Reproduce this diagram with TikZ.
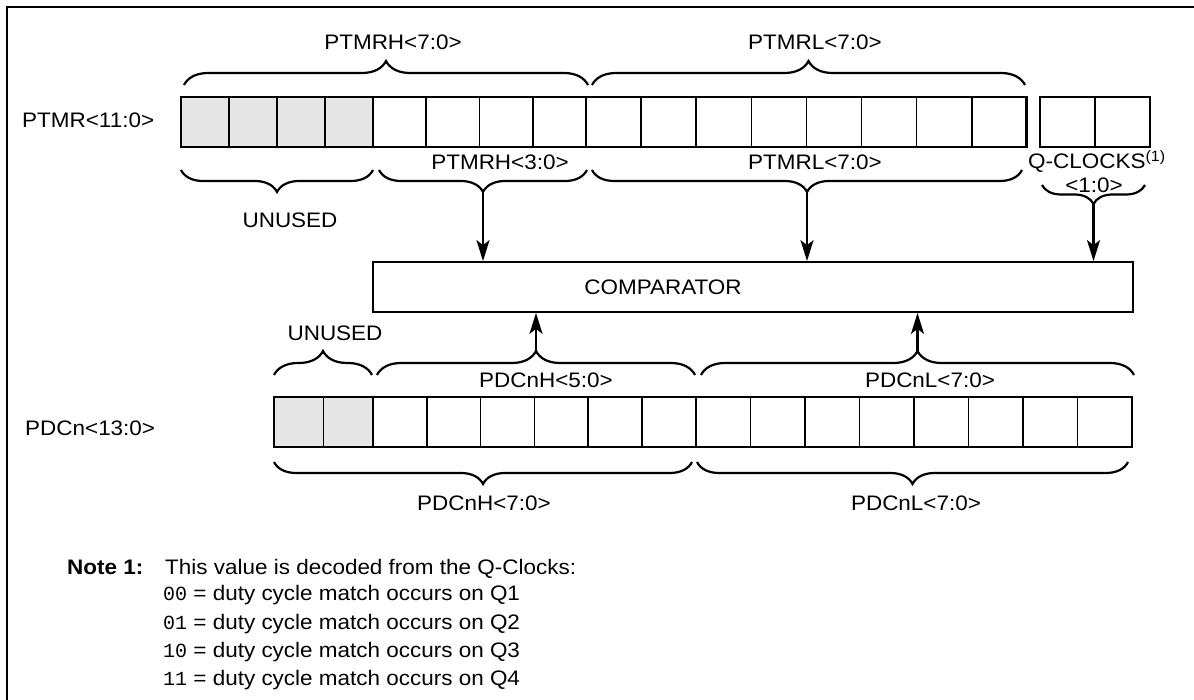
\documentclass[tikz,border=0pt]{standalone}
\usepackage{fontspec}
\setmainfont{Liberation Sans}[FakeStretch=1.07]
\newfontfamily\codefont{Liberation Mono}
\definecolor{unusedgray}{HTML}{E6E6E6}
\usetikzlibrary{arrows.meta, decorations.pathreplacing, positioning}

\begin{document}
\begin{tikzpicture}[x=1pt, y=-1pt,
  cell/.style={draw, line width=1.6pt, minimum height=50pt, inner sep=0pt,
               outer sep=0pt, anchor=north west},
  regframe/.style={draw, line width=2.8pt},
  brace up/.style={decorate, decoration={brace, amplitude=24pt}, line width=2.2pt},
  brace down/.style={decorate, decoration={brace, amplitude=22pt, mirror}, line width=2.2pt},
  sig/.style={-{Stealth[length=21pt, width=13pt, inset=5pt]}, line width=2.2pt},
  lbl/.style={font=\fontsize{21}{25}\selectfont, inner sep=0pt},
]
\useasboundingbox (0,0) rectangle (1194,700);
\draw[line width=2.8pt] (7,704) -- (7,7) -- (1198,7);

% PTMR register
\foreach \i in {0,...,3}
  \node[cell, fill=unusedgray, minimum width=48pt] (ptmr\i) at ({181+48*\i},97) {};
\foreach \i in {4,...,7}
  \node[cell, minimum width=53.25pt] (ptmr\i) at ({373+53.25*(\i-4)},97) {};
\foreach \i in {8,...,15}
  \node[cell, minimum width=55.1pt] (ptmr\i) at ({586+55.1*(\i-8)},97) {};
\draw[regframe] (ptmr0.north west) rectangle (ptmr15.south east);
\node[lbl, anchor=west] (ptmrname) at (22,120) {PTMR<11:0>};

% Q clocks
\foreach \i in {0,1}
  \node[cell, minimum width=55pt] (qclk\i) at ({1040+55*\i},97) {};
\draw[regframe] (qclk0.north west) rectangle (qclk1.south east);

% braces above PTMR
\draw[brace up] (184,85) -- (588,85);
\draw[brace up] (592,85) -- (1025,85);
\node[lbl] (ptmrhtop) at (393,42) {PTMRH<7:0>};
\node[lbl] (ptmrltop) at (815,42) {PTMRL<7:0>};

% braces below PTMR
\draw[brace down] (181,170) -- (373,170);
\draw[brace down] (379,170) -- (587,170);
\draw[brace down] (592,170) -- (1022,170);
\draw[brace down, decoration={amplitude=19pt}] (1042,185) -- (1145,185);
\coordinate (tmrhTip) at (483,192);
\coordinate (tmrlTip) at (807,192);
\coordinate (qclkTip) at (1093.5,204);
\node[lbl] (unusedtmr) at (290,220) {UNUSED};
\node[lbl] (ptmrhlow) at (500,162) {PTMRH<3:0>};
\node[lbl] (ptmrllow) at (815,162) {PTMRL<7:0>};
\node[lbl, anchor=west] (qclkname) at (1028,162)
  {Q-CLOCKS\raisebox{7pt}{\fontsize{15}{15}\selectfont(1)}};
\node[lbl] (qclkbits) at (1094,185) {<1:0>};

% comparator
\node[draw, line width=1.8pt, minimum width=760pt, minimum height=50pt,
      inner sep=0pt] (comp) at (753,287) {};
\node[lbl] (complbl) at (663,287) {COMPARATOR};
\draw[sig] (tmrhTip) -- (tmrhTip |- comp.north);
\draw[sig] (tmrlTip) -- (tmrlTip |- comp.north);
\draw[sig] (qclkTip) -- (qclkTip |- comp.north);

% PDCn register
\foreach \i in {0,1}
  \node[cell, fill=unusedgray, minimum width=49.5pt] (pdc\i) at ({274+49.5*\i},397) {};
\foreach \i in {2,...,7}
  \node[cell, minimum width=53.8pt] (pdc\i) at ({373+53.8*(\i-2)},397) {};
\foreach \i in {8,...,15}
  \node[cell, minimum width=54.5pt] (pdc\i) at ({696+54.5*(\i-8)},397) {};
\draw[regframe] (pdc0.north west) rectangle (pdc15.south east);
\node[lbl, anchor=west] (pdcname) at (25,428) {PDCn<13:0>};

% braces above PDCn
\draw[brace up] (274,375) -- (372,375);
\draw[brace up] (377,375) -- (695,375);
\draw[brace up] (701,375) -- (1134,375);
\coordinate (dchTip) at (536,351);
\coordinate (dclTip) at (917.5,351);
\node[lbl] (unusedpdc) at (335,333) {UNUSED};
\node[lbl] (pdchtop) at (546,380) {PDCnH<5:0>};
\node[lbl] (pdcltop) at (930,380) {PDCnL<7:0>};
\draw[sig] (dchTip) -- (dchTip |- comp.south);
\draw[sig] (dclTip) -- (dclTip |- comp.south);

% braces below PDCn
\draw[brace down] (274,462) -- (692,462);
\draw[brace down] (697,462) -- (1128,462);
\node[lbl] (pdchlow) at (484,503) {PDCnH<7:0>};
\node[lbl] (pdcllow) at (916,503) {PDCnL<7:0>};

% note
\node[lbl, anchor=base west, font=\fontsize{21}{25}\selectfont\bfseries] (notehead) at (67,574.5) {Note 1:};
\node[lbl, anchor=base west] (notetext) at (165,574.5) {This value is decoded from the Q-Clocks:};
\foreach \bits/\q [count=\k] in {00/1,01/2,10/3,11/4}
  \node[lbl, anchor=base west] (case\k) at (163,{572.5+28.3*\k})
    {{\codefont\fontsize{20}{24}\selectfont\bits} = duty cycle match occurs on Q\q};
\end{tikzpicture}
\end{document}
